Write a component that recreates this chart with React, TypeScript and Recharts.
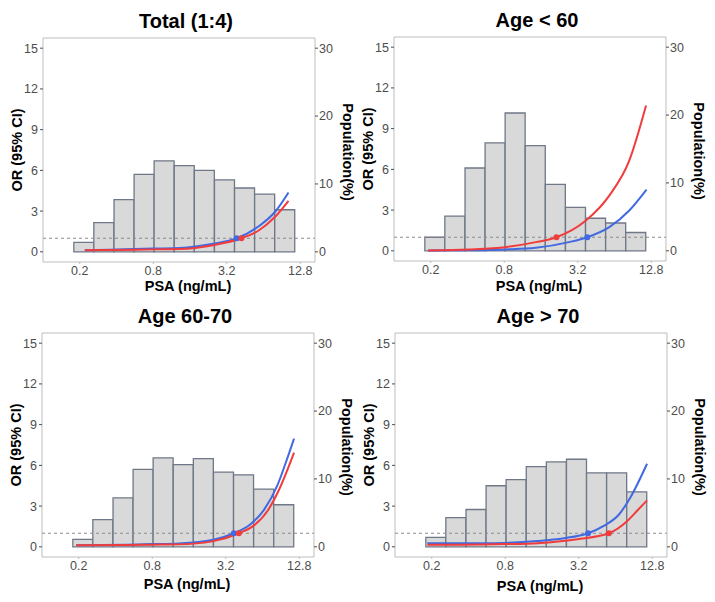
import React from 'react';
import {
  ComposedChart,
  Bar,
  Line,
  XAxis,
  YAxis,
  ReferenceLine,
  ReferenceDot,
} from 'recharts';

// histogram bin centres (PSA, ng/mL) - log spaced
const binPsa = [0.216, 0.315, 0.461, 0.673, 0.982, 1.436, 2.097, 3.066, 4.476, 6.54, 9.55];

// population share per bin (%)
const popTotal = [1.4, 4.3, 7.7, 11.4, 13.4, 12.7, 12.0, 10.6, 9.4, 8.5, 6.2];
const popUnder60 = [2.0, 5.1, 12.2, 15.9, 20.3, 15.5, 9.8, 6.4, 4.8, 4.1, 2.7];
const pop60to70 = [1.1, 4.0, 7.2, 11.4, 13.1, 12.1, 13.0, 11.0, 10.6, 8.5, 6.2];
const popOver70 = [1.4, 4.3, 5.5, 9.0, 9.9, 11.8, 12.5, 12.9, 10.9, 10.9, 8.1];

// OR curves (psa, OR)
const totalBluePsa = [0.22, 0.4, 0.8, 1.32, 2.48, 3.86, 5.8, 8.0, 10.25];
const totalBlueOr = [0.12, 0.17, 0.24, 0.28, 0.59, 1.0, 1.86, 2.97, 4.37];
const totalRedPsa = [0.22, 0.4, 0.8, 1.32, 2.48, 4.22, 5.8, 8.0, 10.25];
const totalRedOr = [0.12, 0.14, 0.18, 0.2, 0.49, 1.0, 1.55, 2.6, 3.76];

const u60BluePsa = [0.19, 0.41, 0.82, 1.45, 2.71, 3.83, 5.8, 8.45, 11.7];
const u60BlueOr = [0.02, 0.04, 0.1, 0.22, 0.64, 1.0, 1.74, 2.97, 4.51];
const u60RedPsa = [0.19, 0.41, 0.82, 1.45, 2.14, 3.73, 5.8, 8.45, 11.6];
const u60RedOr = [0.03, 0.1, 0.27, 0.64, 1.0, 2.23, 4.07, 6.64, 10.7];

const m60BluePsa = [0.19, 0.5, 0.8, 1.32, 2.48, 3.73, 5.13, 6.58, 8.45, 9.97, 11.6];
const m60BlueOr = [0.12, 0.15, 0.2, 0.25, 0.5, 1.0, 1.68, 2.72, 4.5, 6.25, 7.97];
const m60RedPsa = [0.19, 0.5, 0.8, 1.32, 2.48, 4.1, 5.42, 7.05, 8.68, 11.6];
const m60RedOr = [0.12, 0.14, 0.16, 0.18, 0.4, 1.0, 1.56, 2.66, 4.15, 6.94];

const o70BluePsa = [0.184, 0.5, 0.78, 1.47, 2.42, 3.81, 5.13, 6.86, 8.45, 11.6];
const o70BlueOr = [0.26, 0.27, 0.29, 0.42, 0.63, 1.0, 1.54, 2.4, 3.62, 6.12];
const o70RedPsa = [0.184, 0.5, 0.78, 1.47, 3.11, 5.65, 7.99, 9.57, 11.6];
const o70RedOr = [0.15, 0.17, 0.2, 0.27, 0.56, 1.0, 1.9, 2.64, 3.42];

// reference points (OR = 1)
const refBlue = [3.86, 3.83, 3.73, 3.81];
const refRed = [4.22, 2.14, 4.1, 5.65];

const xTicks = [0.2, 0.8, 3.2, 12.8];
const orTicks = [0, 3, 6, 9, 12, 15];
const popTicks = [0, 10, 20, 30];
const xDomain = [0.1, 16.9];

const BLUE = '#4169e1';
const RED = '#f03c3c';
const BORDER = '#bdbdbd';
const FONT = '"Liberation Sans", Arial, Helvetica, sans-serif';
const tickStyle = { fill: '#4d4d4d', fontSize: 12.5, fontFamily: FONT };

const toPoints = (xs: number[], ys: number[]) => xs.map((psa, i) => ({ psa, or: ys[i] }));

interface PanelProps {
  title: string;
  pop: number[];
  blue: { psa: number; or: number }[];
  red: { psa: number; or: number }[];
  refB: number;
  refR: number;
  left: number;
  top: number;
  xTitleTop: number;
}

function Panel({ title, pop, blue, red, refB, refR, left, top, xTitleTop }: PanelProps) {
  const bins = binPsa.map((psa, i) => ({ psa, pop: pop[i] }));
  const axisTitle: React.CSSProperties = {
    position: 'absolute',
    fontFamily: FONT,
    fontWeight: 700,
    fontSize: 14.5,
    color: '#000',
    whiteSpace: 'nowrap',
    transformOrigin: 'center',
  };
  return (
    <div style={{ position: 'absolute', left, top, width: 357, height: 300 }}>
      <ComposedChart
        width={357}
        height={300}
        data={bins}
        margin={{ top: 38, right: 12, bottom: 14, left: 13 }}
        barCategoryGap={0}
        barGap={0}
      >
        <XAxis
          xAxisId="bins"
          dataKey="psa"
          type="number"
          scale="log"
          domain={xDomain}
          allowDataOverflow
          ticks={xTicks}
          interval={0}
          tickFormatter={(v) => String(v)}
          height={24}
          tickSize={2}
          tickMargin={2}
          axisLine={{ stroke: BORDER }}
          tickLine={{ stroke: BORDER }}
          tick={tickStyle}
        />
        {/* same scale, used by the curves so they don't shrink the bin width */}
        <XAxis
          xAxisId="curve"
          dataKey="psa"
          type="number"
          scale="log"
          domain={xDomain}
          allowDataOverflow
          hide
        />
        <YAxis
          yAxisId="left"
          type="number"
          domain={[-0.75, 15.75]}
          allowDataOverflow
          ticks={orTicks}
          interval={0}
          width={30}
          tickSize={3}
          tickMargin={2}
          axisLine={{ stroke: BORDER }}
          tickLine={{ stroke: '#4d4d4d' }}
          tick={tickStyle}
        />
        <YAxis
          yAxisId="right"
          orientation="right"
          type="number"
          domain={[-1.5, 31.5]}
          allowDataOverflow
          ticks={popTicks}
          interval={0}
          width={30}
          tickSize={3}
          tickMargin={1}
          axisLine={{ stroke: BORDER }}
          tickLine={{ stroke: '#4d4d4d' }}
          tick={tickStyle}
        />
        <ReferenceLine xAxisId="bins" yAxisId="left" y={15.75} stroke={BORDER} />
        <Bar
          xAxisId="bins"
          yAxisId="right"
          dataKey="pop"
          fill="#d9d9d9"
          stroke="#6f7888"
          strokeWidth={1.3}
          isAnimationActive={false}
        />
        <ReferenceLine xAxisId="bins" yAxisId="left" y={1} stroke="#8a8a8a" strokeDasharray="3 3" />
        <Line
          xAxisId="curve"
          yAxisId="left"
          data={blue}
          dataKey="or"
          type="monotone"
          stroke={BLUE}
          strokeWidth={2}
          dot={false}
          isAnimationActive={false}
        />
        <Line
          xAxisId="curve"
          yAxisId="left"
          data={red}
          dataKey="or"
          type="monotone"
          stroke={RED}
          strokeWidth={2}
          dot={false}
          isAnimationActive={false}
        />
        <ReferenceDot xAxisId="curve" yAxisId="left" x={refB} y={1} r={3} fill={BLUE} stroke="none" />
        <ReferenceDot xAxisId="curve" yAxisId="left" x={refR} y={1} r={3} fill={RED} stroke="none" />
      </ComposedChart>
      <div
        style={{
          position: 'absolute',
          left: 86,
          width: 200,
          top: 9,
          textAlign: 'center',
          fontFamily: FONT,
          fontWeight: 700,
          fontSize: 20,
          lineHeight: '24px',
        }}
      >
        {title}
      </div>
      <div style={{ ...axisTitle, left: 88, width: 200, top: xTitleTop, textAlign: 'center', lineHeight: '18px' }}>
        PSA (ng/mL)
      </div>
      <div
        style={{
          ...axisTitle,
          left: 17 - 60,
          width: 120,
          top: 150 - 9,
          lineHeight: '18px',
          textAlign: 'center',
          transform: 'rotate(-90deg)',
        }}
      >
        OR (95% CI)
      </div>
      <div
        style={{
          ...axisTitle,
          left: 348 - 60,
          width: 120,
          top: 152 - 9,
          lineHeight: '18px',
          textAlign: 'center',
          transform: 'rotate(90deg)',
        }}
      >
        Population(%)
      </div>
    </div>
  );
}

export default function App() {
  return (
    <div style={{ position: 'absolute', left: 0, top: 0, width: 715, height: 602, background: '#fff', overflow: 'hidden' }}>
      <Panel
        title="Total (1:4)"
        pop={popTotal}
        blue={toPoints(totalBluePsa, totalBlueOr)}
        red={toPoints(totalRedPsa, totalRedOr)}
        refB={refBlue[0]}
        refR={refRed[0]}
        left={0}
        top={0}
        xTitleTop={277}
      />
      <Panel
        title="Age < 60"
        pop={popUnder60}
        blue={toPoints(u60BluePsa, u60BlueOr)}
        red={toPoints(u60RedPsa, u60RedOr)}
        refB={refBlue[1]}
        refR={refRed[1]}
        left={351}
        top={-1}
        xTitleTop={278}
      />
      <Panel
        title="Age 60-70"
        pop={pop60to70}
        blue={toPoints(m60BluePsa, m60BlueOr)}
        red={toPoints(m60RedPsa, m60RedOr)}
        refB={refBlue[2]}
        refR={refRed[2]}
        left={-1}
        top={295}
        xTitleTop={280}
      />
      <Panel
        title="Age > 70"
        pop={popOver70}
        blue={toPoints(o70BluePsa, o70BlueOr)}
        red={toPoints(o70RedPsa, o70RedOr)}
        refB={refBlue[3]}
        refR={refRed[3]}
        left={352}
        top={295}
        xTitleTop={282}
      />
    </div>
  );
}
